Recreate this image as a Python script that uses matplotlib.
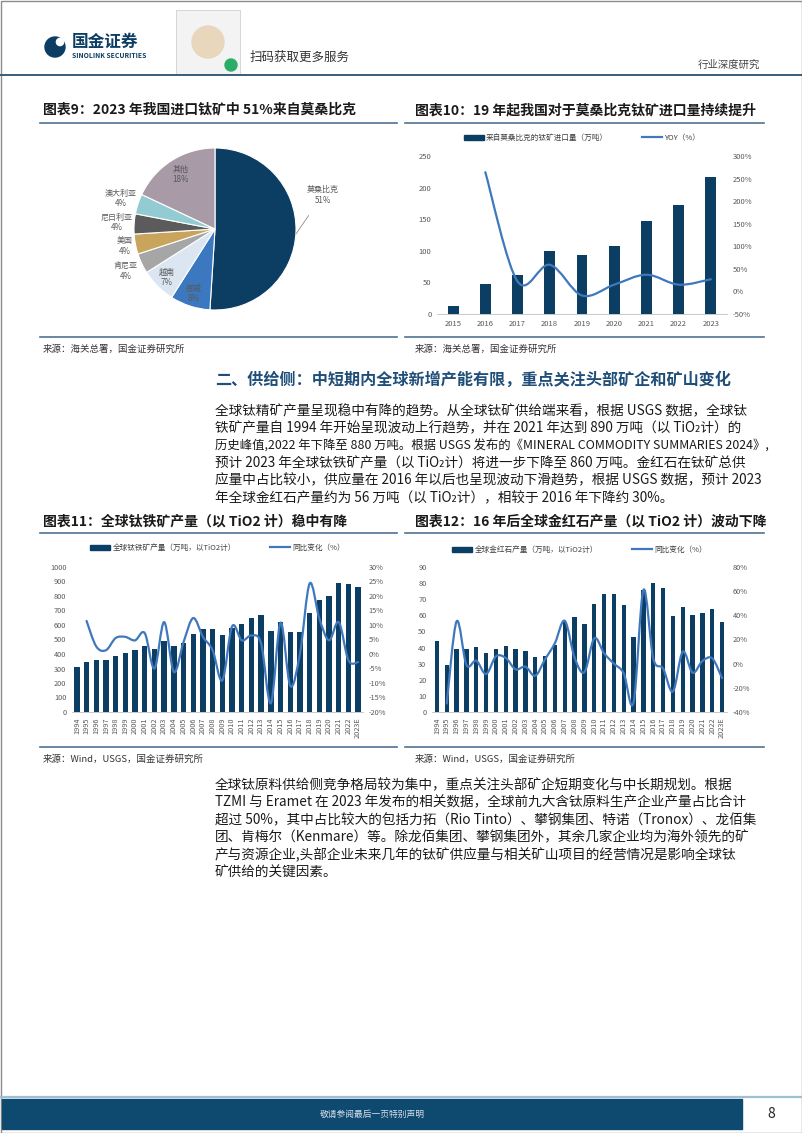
"""Page 8 of the titanium industry report: pie, bar+yoy charts and text blocks."""

import matplotlib
matplotlib.use("Agg")
import matplotlib.pyplot as plt
import numpy as np
from matplotlib import font_manager
from matplotlib.lines import Line2D
from matplotlib.patches import Circle, PathPatch, Rectangle
from matplotlib.path import Path

plt.rcParams["font.family"] = ["Noto Sans CJK SC", "DejaVu Sans"]
plt.rcParams["axes.unicode_minus"] = False

W, H = 802, 1133

# ---- data -----------------------------------------------------------------
pie_labels = ["莫桑比克", "挪威", "越南", "肯尼亚", "美国", "尼日利亚", "澳大利亚", "其他"]
pie_shares = [51, 8, 7, 4, 4, 4, 4, 18]

moz_years = ["2015", "2016", "2017", "2018", "2019", "2020", "2021", "2022", "2023"]
moz_imports = [13, 47, 62, 99, 94, 107, 147, 172, 217]
moz_yoy = [264, 22, 59, -9, 15, 37, 15, 27]  # 2016 onward

prod_years = [str(y) for y in range(1994, 2023)] + ["2023E"]
ilmenite = [312, 348, 358, 362, 383, 408, 426, 458, 435, 487, 458, 476, 538, 569, 574,
            528, 580, 609, 648, 671, 556, 621, 549, 549, 685, 770, 802, 892, 880, 860]
ilmenite_yoy = [11.4, 2.6, 1.3, 5.5, 5.9, 4.7, 7.2, -5.0, 11.0, -6.2, 4.1, 12.4, 5.9, 1.3,
                -9.1, 9.5, 4.7, 6.4, 3.6, -17.0, 10.8, -11.0, 0.1, 24.3, 12.2, 4.7, 11.0,
                -2.2, -2.8]  # 1995 onward
rutile = [44, 29, 39.3, 39.3, 40.5, 36.8, 38.9, 40.7, 38.9, 37.6, 33.9, 34.7, 41.4, 56, 58.8,
          54.9, 66.9, 73, 73, 66.7, 46.8, 75.9, 79.8, 76.9, 59.3, 65, 60.3, 61.7, 63.8, 55.9]
rutile_yoy = [-33, 35, -1, 2.5, -8.6, 6, 4.7, -4.7, -2.5, -10, 3.6, 17, 35.5, 5, -7, 21, 8.6,
              0, -8, -32, 61, 4.4, -4, -23, 10, -7.5, 2.2, 4.4, -12]  # 1995 onward

para1 = [
    "全球钛精矿产量呈现稳中有降的趋势。从全球钛矿供给端来看，根据 USGS 数据，全球钛",
    "铁矿产量自 1994 年开始呈现波动上行趋势，并在 2021 年达到 890 万吨（以 TiO₂计）的",
    "历史峰值,2022 年下降至 880 万吨。根据 USGS 发布的《MINERAL COMMODITY SUMMARIES 2024》,",
    "预计 2023 年全球钛铁矿产量（以 TiO₂计）将进一步下降至 860 万吨。金红石在钛矿总供",
    "应量中占比较小，供应量在 2016 年以后也呈现波动下滑趋势，根据 USGS 数据，预计 2023",
    "年全球金红石产量约为 56 万吨（以 TiO₂计），相较于 2016 年下降约 30%。",
]
para2 = [
    "全球钛原料供给侧竞争格局较为集中，重点关注头部矿企短期变化与中长期规划。根据",
    "TZMI 与 Eramet 在 2023 年发布的相关数据，全球前九大含钛原料生产企业产量占比合计",
    "超过 50%，其中占比较大的包括力拓（Rio Tinto）、攀钢集团、特诺（Tronox）、龙佰集",
    "团、肯梅尔（Kenmare）等。除龙佰集团、攀钢集团外，其余几家企业均为海外领先的矿",
    "产与资源企业,头部企业未来几年的钛矿供应量与相关矿山项目的经营情况是影响全球钛",
    "矿供给的关键因素。",
]

# ---- styles ---------------------------------------------------------------
NAVY = "#0c3d62"
LINE_BLUE = "#3f78bd"
TICK = "#595959"
RULE = "#4f7393"
pie_colors = ["#0c3d62", "#3b78c0", "#dbe6f2", "#a6a6a6", "#c9a45c", "#5b5b5b", "#92cbd1", "#a99aa8"]
pie_label_dist = [None, 0.84, 0.84, 1.22, 1.13, 1.22, 1.22, 0.8]

# narrow latin glyphs for body text when available, CJK falls back to Noto
try:
    font_manager.findfont("Liberation Sans Narrow", fallback_to_default=False)
    BODY_FAMILY = ["Liberation Sans Narrow", "Noto Sans CJK SC", "DejaVu Sans"]
except ValueError:
    BODY_FAMILY = ["Noto Sans CJK SC", "DejaVu Sans"]

fig = plt.figure(figsize=(W / 100, H / 100), dpi=100)


def px_axes(left, top, right, bottom):
    return fig.add_axes([left / W, 1 - bottom / H, (right - left) / W, (bottom - top) / H])


def txt(x, y, s, **kw):
    kw.setdefault("va", "center")
    return fig.text(x / W, 1 - y / H, s, **kw)


def hline(x0, x1, y, color, lw):
    fig.add_artist(Line2D([x0 / W, x1 / W], [1 - y / H, 1 - y / H], color=color, lw=lw))


def smooth_line(ax, x, y, color, lw):
    # Catmull-Rom style cubic Bezier through the data points (like Excel smoothed lines)
    pts = np.column_stack([x, y]).astype(float)
    n = len(pts)
    verts, codes = [pts[0]], [Path.MOVETO]
    for i in range(n - 1):
        p0 = pts[i - 1] if i > 0 else pts[i]
        p1, p2 = pts[i], pts[i + 1]
        p3 = pts[i + 2] if i + 2 < n else pts[i + 1]
        verts += [p1 + (p2 - p0) / 6, p2 - (p3 - p1) / 6, p2]
        codes += [Path.CURVE4] * 3
    ax.add_patch(PathPatch(Path(verts, codes), fill=False, edgecolor=color, lw=lw,
                           capstyle="round", joinstyle="round"))


def paragraph(lines, x, y0, step, size, max_width):
    renderer = fig.canvas.get_renderer()
    for i, line in enumerate(lines):
        t = txt(x, y0 + i * step, line, fontsize=size, color="#1a1a1a", family=BODY_FAMILY)
        width = t.get_window_extent(renderer).width
        if width > max_width:
            t.set_fontsize(size * max_width / width)


def bar_line_chart(box, cats, bars, yoy, yoy_offset, ylim, yticks, y2lim, y2ticks,
                   width, labels, rotate, legend_y, fs):
    ax = px_axes(*box)
    x = np.arange(len(cats))
    ax.bar(x, bars, width=width, color=NAVY, zorder=2)
    ax.set_xlim(-0.5, len(cats) - 0.5)
    ax.set_ylim(*ylim)
    ax.set_yticks(yticks)
    ax.set_xticks(x)
    ax.set_xticklabels(cats, rotation=90 if rotate else 0)
    ax2 = ax.twinx()
    ax2.set_ylim(*y2lim)
    ax2.set_yticks(y2ticks)
    ax2.set_yticklabels([f"{v}%" for v in y2ticks])
    smooth_line(ax2, x[yoy_offset:], yoy, LINE_BLUE, 1.6)
    for a in (ax, ax2):
        for s in a.spines.values():
            s.set_visible(False)
        a.tick_params(length=0, labelsize=fs, colors=TICK, pad=4)
    ax.spines["bottom"].set_visible(True)
    ax.spines["bottom"].set_color("#bfbfbf")
    ax.spines["bottom"].set_linewidth(0.6)
    handles = [Rectangle((0, 0), 1, 1, color=NAVY), Line2D([], [], color=LINE_BLUE, lw=1.6)]
    cx = (box[0] + box[2]) / 2
    leg = ax.legend(handles, labels, loc="center", bbox_to_anchor=(cx / W, 1 - legend_y / H),
                    bbox_transform=fig.transFigure, ncol=2, frameon=False, fontsize=5.5,
                    handlelength=2.6, handleheight=0.6, columnspacing=4.5, handletextpad=0.3)
    for t in leg.get_texts():
        t.set_color("#404040")
    return ax, ax2


# ---- page frame / header / footer -------------------------------------------
fig.add_artist(Rectangle((0.5, 0.5), W - 1, H - 1, transform=None, fill=False,
                         edgecolor="#8c8c8c", lw=1))
fig.add_artist(Circle((55, H - 47), 10, transform=None, color=NAVY))
fig.add_artist(Circle((60, H - 42), 3.6, transform=None, color="white"))
txt(72, 42, "国金证券", fontsize=12, fontweight="bold", color=NAVY)
txt(72, 56, "SINOLINK SECURITIES", fontsize=4.9, fontweight="bold", color=NAVY)
fig.add_artist(Rectangle((176, H - 74), 64, 64, transform=None, facecolor="#f3f3f3",
                         edgecolor="#d0d0d0", lw=0.6))
fig.add_artist(Circle((208, H - 42), 16, transform=None, color="#ead6bd"))
fig.add_artist(Circle((231, H - 65), 6, transform=None, color="#2aae67"))
txt(250, 57, "扫码获取更多服务", fontsize=9, color="#333333")
txt(760, 65, "行业深度研究", fontsize=7.5, color="#444444", ha="right")
hline(0, W, 75, "#3b5b78", 1.4)

hline(0, W, 1097, "#9fbfd4", 1.6)
fig.add_artist(Rectangle((2, H - 1129), 740, 30, transform=None, color="#0e4a6f"))
txt(372, 1114, "敬请参阅最后一页特别声明", fontsize=6.3, color="#d6e0ea", ha="center")
txt(771, 1114, "8", fontsize=10, color="#222222", ha="center")

# ---- chart titles, rules and sources --------------------------------------
title_kw = dict(fontsize=10, fontweight="bold", color="#1a1a1a", style="italic")
txt(43, 110, "图表9：2023 年我国进口钛矿中 51%来自莫桑比克", **title_kw)
txt(415, 110, "图表10：19 年起我国对于莫桑比克钛矿进口量持续提升", **title_kw)
txt(43, 522, "图表11：全球钛铁矿产量（以 TiO2 计）稳中有降", **title_kw)
txt(415, 522, "图表12：16 年后全球金红石产量（以 TiO2 计）波动下降", **title_kw)
for y in (123, 533, 337, 747):
    hline(40, 397, y, RULE, 1.2)
    hline(405, 764, y, RULE, 1.2)
src_kw = dict(fontsize=6.8, color="#333333")
txt(43, 349, "来源：海关总署，国金证券研究所", **src_kw)
txt(415, 349, "来源：海关总署，国金证券研究所", **src_kw)
txt(43, 759, "来源：Wind，USGS，国金证券研究所", **src_kw)
txt(415, 759, "来源：Wind，USGS，国金证券研究所", **src_kw)

# ---- chart 9: pie -----------------------------------------------------------
pax = px_axes(215 - 81, 229 - 81, 215 + 81, 229 + 81)
wedges, _ = pax.pie(pie_shares, colors=pie_colors, startangle=90, counterclock=False,
                    radius=1, wedgeprops=dict(edgecolor="white", linewidth=0.8))
pax.set_xlim(-1, 1)
pax.set_ylim(-1, 1)
pax.set_aspect("equal")
for w, name, share, dist in zip(wedges, pie_labels, pie_shares, pie_label_dist):
    if dist is None:
        continue
    ang = np.deg2rad((w.theta1 + w.theta2) / 2)
    pax.text(dist * np.cos(ang), dist * np.sin(ang), f"{name}\n{share}%", ha="center",
             va="center", fontsize=5.8, color="#595959", linespacing=1.2)
ang = np.deg2rad((wedges[0].theta1 + wedges[0].theta2) / 2)
pax.annotate(f"{pie_labels[0]}\n{pie_shares[0]}%", xy=(np.cos(ang), np.sin(ang) - 0.03),
             xytext=(1.33, 0.42), ha="center", va="center", fontsize=5.8, color="#595959",
             linespacing=1.2,
             arrowprops=dict(arrowstyle="-", color="#8c8c8c", lw=0.6, shrinkA=7, shrinkB=0))

# ---- chart 10 ---------------------------------------------------------------
bar_line_chart((437, 156, 727, 314), moz_years, moz_imports, moz_yoy, 1,
               (0, 250), range(0, 251, 50), (-50, 300), list(range(-50, 301, 50)),
               0.34, ["来自莫桑比克的钛矿进口量（万吨）", "YOY（%）"], False, 138, 5.5)

# ---- section heading and paragraph 1 --------------------------------------
txt(215, 380, "二、供给侧：中短期内全球新增产能有限，重点关注头部矿企和矿山变化",
    fontsize=11.6, fontweight="bold", color="#1f4e79")
paragraph(para1, 215, 411, 17.4, 9.8, 552)

# ---- chart 11 / 12 ----------------------------------------------------------
bar_line_chart((72, 567, 363, 712), prod_years, ilmenite, ilmenite_yoy, 1,
               (0, 1000), range(0, 1001, 100), (-20, 30), list(range(-20, 31, 5)),
               0.55, ["全球钛铁矿产量（万吨，以TiO2计）", "同比变化（%）"], True, 548, 5.3)
bar_line_chart((432, 567, 727, 712), prod_years, rutile, rutile_yoy, 1,
               (0, 90), range(0, 91, 10), (-40, 80), list(range(-40, 81, 20)),
               0.45, ["全球金红石产量（万吨，以TiO2计）", "同比变化（%）"], True, 550, 5.3)

# ---- paragraph 2 -------------------------------------------------------------
paragraph(para2, 215, 785, 17.6, 9.8, 552)

fig.savefig("out.png", dpi=100)
